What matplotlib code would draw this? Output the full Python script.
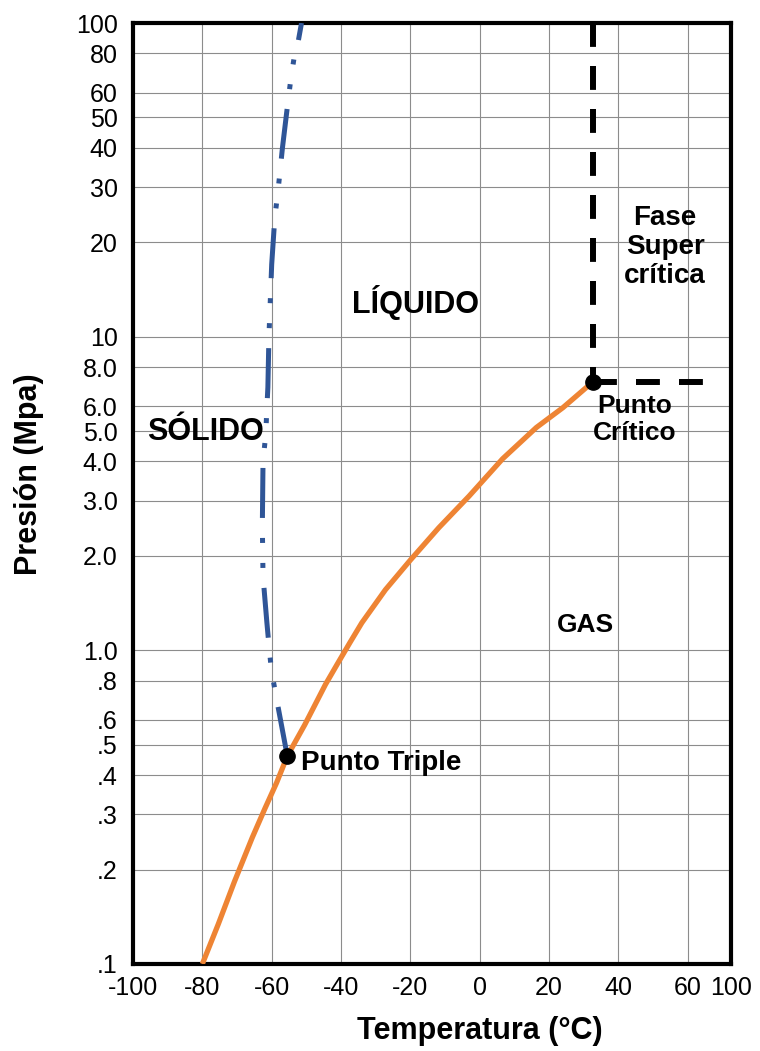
#-------------------#
# Import
#-------------------#
import numpy as np
import matplotlib
matplotlib.use("Agg")
import matplotlib.pyplot as plt

#-------------------#
# Setting Font
#-------------------#
plt.rcParams['font.family'] = ['Liberation Sans', 'DejaVu Sans']

#-------------------#
# Data
#-------------------#
# Curva de sublimacion / vaporizacion (T en C, P en MPa)
T_vap = [-80.0, -75.4, -70.75, -65.6, -61.9, -58.6, -55.5, -50.5, -44.5, -40.8,
         -37.4, -34.0, -27.2, -20.0, -11.8, -3.1, 6.6, 16.3, 24.0, 30.7, 32.6]
P_vap = [0.100, 0.134, 0.183, 0.253, 0.314, 0.378, 0.460, 0.578, 0.778, 0.915,
         1.06, 1.224, 1.56, 1.94, 2.46, 3.10, 4.08, 5.13, 5.94, 6.88, 7.16]

# Curva de fusion
T_fus = [-55.5, -58.8, -60.1, -60.8, -61.4, -62.5, -62.7, -62.5, -61.7, -61.4,
         -61.1, -60.8, -60.0, -59.1, -58.2, -56.9, -55.4, -54.5, -53.5, -52.3, -51.4]
P_fus = [0.46, 0.72, 0.866, 1.04, 1.23, 1.72, 2.5, 4.0, 4.9, 5.9,
         6.9, 10, 17, 24, 29, 40, 55, 66, 78, 88, 100]

# Puntos
T_triple, P_triple = -55.5, 0.46
T_crit, P_crit = 32.6, 7.16
T_dash_end = 67.0

# Ejes
x_min, x_max = -100, 72.5
x_ticks = [-100, -80, -60, -40, -20, 0, 20, 40, 60, x_max]
x_ticklabels = ['-100', '-80', '-60', '-40', '-20', '0', '20', '40', '60', '100']
y_ticks = [0.1, 0.2, 0.3, 0.4, 0.5, 0.6, 0.8, 1, 2, 3, 4, 5, 6, 8,
           10, 20, 30, 40, 50, 60, 80, 100]
y_ticklabels = ['.1', '.2', '.3', '.4', '.5', '.6', '.8', '1.0', '2.0', '3.0',
                '4.0', '5.0', '6.0', '8.0', '10', '20', '30', '40', '50', '60',
                '80', '100']

c_orange = '#EE8434'
c_blue = '#2F5597'

#-------------------#
# Plot
#-------------------#
fig = plt.figure(figsize=(7.6, 10.51), dpi=100)
ax = fig.add_axes([0.175, 0.0828, 0.787, 0.8953])

ax.set_yscale('log')
ax.set_xlim(x_min, x_max)
ax.set_ylim(0.1, 100)

ax.set_xticks(x_ticks)
ax.set_xticklabels(x_ticklabels)
ax.set_yticks(y_ticks)
ax.set_yticklabels(y_ticklabels)
ax.minorticks_off()
ax.tick_params(axis='both', length=0, labelsize=18)
ax.tick_params(axis='y', pad=11)
ax.tick_params(axis='x', pad=9)

ax.grid(True, color='#8c8c8c', linewidth=0.8)
ax.set_axisbelow(True)
for s in ax.spines.values():
    s.set_linewidth(3)

# Curva naranja
ax.plot(T_vap, P_vap, color=c_orange, linewidth=3.8, solid_capstyle='butt',
        solid_joinstyle='round', zorder=3)
# Curva azul (raya-punto-punto)
ax.plot(T_fus, P_fus, color=c_blue, linewidth=3.6, dash_capstyle='butt',
        dashes=(10, 4, 1, 4, 1, 4), zorder=3)
# Lineas discontinuas del punto critico
ax.plot([T_crit, T_crit], [100, P_crit], color='black', linewidth=4.3,
        dashes=(4, 3.2), dash_capstyle='butt', zorder=3)
ax.plot([T_crit, T_dash_end], [P_crit, P_crit], color='black', linewidth=4.3,
        dashes=(4, 3.2), dash_capstyle='butt', zorder=3)
# Puntos
ax.plot([T_triple, T_crit], [P_triple, P_crit], 'o', color='black',
        markersize=11, zorder=4, clip_on=False)

# Textos
ax.text(0.4716, 0.7035, 'LÍQUIDO', transform=ax.transAxes, fontsize=22,
        fontweight='bold', ha='center', va='center')
ax.text(0.1204, 0.5654, 'SÓLIDO', transform=ax.transAxes, fontsize=22,
        fontweight='bold', ha='center', va='center')
ax.text(0.7559, 0.3603, 'GAS', transform=ax.transAxes, fontsize=19,
        fontweight='bold', ha='center', va='center')
ax.text(0.8896, 0.7620, 'Fase\nSuper\ncrítica', transform=ax.transAxes, fontsize=20,
        fontweight='bold', ha='center', va='center', linespacing=1.15)
ax.text(-51.6, 0.437, 'Punto Triple', fontsize=20, fontweight='bold',
        ha='left', va='center')
ax.text(44.6, 5.45, 'Punto\nCrítico', fontsize=19, fontweight='bold', ha='center',
        va='center', linespacing=1.15)

ax.set_xlabel('Temperatura (°C)', fontsize=22, fontweight='bold')
ax.set_ylabel('Presión (Mpa)', fontsize=22, fontweight='bold')
ax.xaxis.set_label_coords(0.58, -0.055)
ax.yaxis.set_label_coords(-0.149, 0.52)

#-------------------#
# Save
#-------------------#
fig.savefig('out.png', dpi=100)
